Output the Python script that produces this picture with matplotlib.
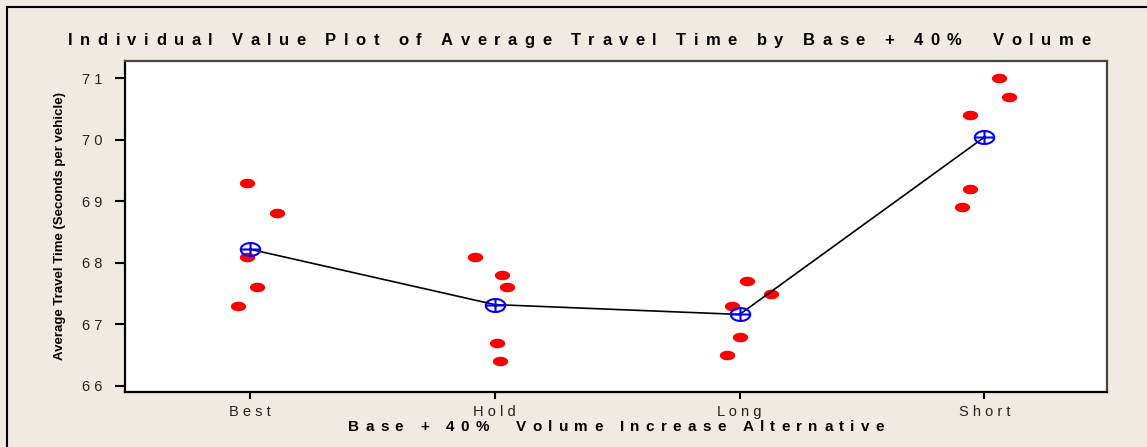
import numpy as np
import matplotlib.pyplot as plt
from matplotlib.path import Path
from matplotlib.lines import Line2D
from matplotlib.font_manager import FontProperties

plt.rcParams['font.family'] = ['Liberation Sans', 'DejaVu Sans']

# groups and observed travel times (seconds per vehicle)
groups = ['Best', 'Hold', 'Long', 'Short']
best = [69.3, 68.8, 68.1, 67.6, 67.3]
hold = [68.1, 67.8, 67.6, 66.7, 66.4]
long_ = [67.7, 67.5, 67.3, 66.8, 66.5]
short = [71.0, 70.7, 70.4, 69.2, 68.9]
# horizontal jitter applied to each point so ties don't overlap
jitter = [
    [-0.01, 0.11, -0.01, 0.03, -0.05],
    [-0.08, 0.03, 0.05, 0.01, 0.02],
    [0.03, 0.13, -0.03, 0.0, -0.05],
    [0.06, 0.10, -0.06, -0.06, -0.09],
]
y_ticks = [66, 67, 68, 69, 70, 71]

values = [best, hold, long_, short]
means = [np.mean(v) for v in values]

DPI = 100
W, H = 11.47, 4.47


def spaced(s):
    return ' '.join(s)


def tracked_text(fig, xc, yc, s, size, width_px):
    # draw bold text one glyph at a time, stretched to width_px
    r = fig.canvas.get_renderer()
    prop = FontProperties(family=['Liberation Sans', 'DejaVu Sans'],
                          size=size, weight='bold')
    space = size * DPI / 72 * 0.28
    widths = []
    for c in s:
        if c == ' ':
            widths.append(space)
        else:
            widths.append(r.get_text_width_height_descent(c, prop, ismath=False)[0])
    track = (width_px - sum(widths)) / (len(s) - 1)
    x = xc * W * DPI - width_px / 2
    for c, w in zip(s, widths):
        if c != ' ':
            fig.text(x / (W * DPI), yc, c, fontproperties=prop,
                     ha='left', va='center')
        x += w + track


def ellipse_path(aspect=1.6, cross=False):
    t = np.linspace(0, 2 * np.pi, 60)
    verts = list(zip(aspect * np.cos(t), np.sin(t)))
    codes = [Path.MOVETO] + [Path.LINETO] * (len(verts) - 1)
    if cross:
        verts += [(-aspect, 0), (aspect, 0), (0, -1), (0, 1)]
        codes += [Path.MOVETO, Path.LINETO, Path.MOVETO, Path.LINETO]
    return Path(verts, codes)


bg = '#efebe1'
fig = plt.figure(figsize=(W, H), dpi=DPI, facecolor=bg)
ax = fig.add_axes([0.109, 0.123, 0.856, 0.741])

# outer frame (top and left edges)
fig.add_artist(Line2D([0.006, 0.006], [0, 0.985], color='black', lw=1.5))
fig.add_artist(Line2D([0.006, 1.0], [0.985, 0.985], color='black', lw=1.5))

dot = ellipse_path(1.6)
for i, (vals, jit) in enumerate(zip(values, jitter)):
    xs = [i + j for j in jit]
    ax.plot(xs, vals, linestyle='none', marker=dot, markersize=11,
            color='#ff0000', markeredgewidth=0, zorder=2)

xs = np.arange(len(groups))
ax.plot(xs, means, color='black', lw=1.2, zorder=3)
ax.plot(xs, means, linestyle='none', marker=ellipse_path(1.5, cross=True),
        markersize=14, markerfacecolor='none', markeredgecolor='#0000ff',
        markeredgewidth=1.5, zorder=4)

ax.set_xlim(-0.51, 3.5)
ax.set_ylim(65.9, 71.28)
ax.set_xticks(xs)
ax.set_xticklabels([spaced(g) for g in groups], fontsize=10.5, color='#222222')
ax.set_yticks(y_ticks)
ax.set_yticklabels([spaced(str(t)) for t in y_ticks], fontsize=10.5,
                   color='#222222')
ax.tick_params(axis='y', length=7, width=1.5, pad=9)
ax.tick_params(axis='x', length=5, width=1.5, pad=4)

for side in ['left', 'bottom']:
    ax.spines[side].set_linewidth(1.6)
for side in ['top', 'right']:
    ax.spines[side].set_linewidth(1.6)
    ax.spines[side].set_color('#444444')

ax.set_ylabel('Average Travel Time (Seconds per vehicle)', fontsize=9.5,
              fontweight='bold', labelpad=12)

fig.canvas.draw()
tracked_text(fig, 0.505, 0.91,
             'Individual Value Plot of Average Travel Time by Base + 40%  Volume',
             12, 1022)
tracked_text(fig, 0.537, 0.044,
             'Base + 40%  Volume Increase Alternative', 11, 536)

fig.savefig('out.png', dpi=DPI, facecolor=bg)
